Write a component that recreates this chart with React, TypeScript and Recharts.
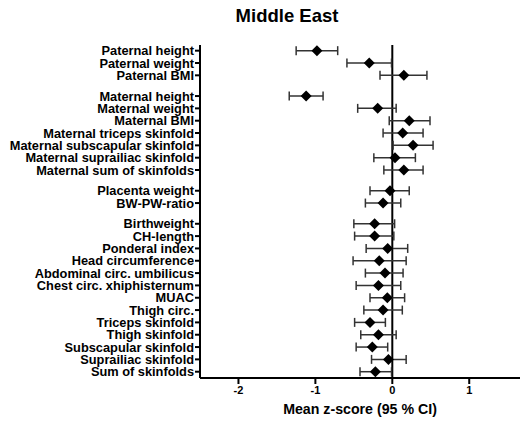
import { ScatterChart, Scatter, XAxis, YAxis, ErrorBar, ReferenceLine } from 'recharts';

const FONT = '"Liberation Sans", Arial, sans-serif';

// groups of outcomes, top to bottom
const PATERNAL = ['Paternal height', 'Paternal weight', 'Paternal BMI'];
const MATERNAL = [
  'Maternal height',
  'Maternal weight',
  'Maternal BMI',
  'Maternal triceps skinfold',
  'Maternal subscapular skinfold',
  'Maternal suprailiac skinfold',
  'Maternal sum of skinfolds',
];
const PLACENTA = ['Placenta weight', 'BW-PW-ratio'];
const NEWBORN = [
  'Birthweight',
  'CH-length',
  'Ponderal index',
  'Head circumference',
  'Abdominal circ. umbilicus',
  'Chest circ. xhiphisternum',
  'MUAC',
  'Thigh circ.',
  'Triceps skinfold',
  'Thigh skinfold',
  'Subscapular skinfold',
  'Suprailiac skinfold',
  'Sum of skinfolds',
];

// mean z-score and 95 % CI, same order as the labels above
const MEANS = [
  -0.98, -0.3, 0.15,
  -1.12, -0.19, 0.22, 0.135, 0.27, 0.035, 0.15,
  -0.03, -0.12,
  -0.23, -0.23, -0.06, -0.17, -0.095, -0.18, -0.065, -0.12, -0.29, -0.18, -0.26, -0.05, -0.22,
];
const CI_LOW = [
  -1.25, -0.59, -0.16,
  -1.34, -0.45, -0.04, -0.12, 0.01, -0.24, -0.11,
  -0.29, -0.35,
  -0.5, -0.49, -0.34, -0.51, -0.35, -0.47, -0.29, -0.37, -0.49, -0.41, -0.47, -0.27, -0.42,
];
const CI_HIGH = [
  -0.71, -0.01, 0.45,
  -0.9, 0.05, 0.49, 0.4, 0.53, 0.3, 0.4,
  0.22, 0.11,
  0.03, 0.02, 0.2, 0.18, 0.14, 0.11, 0.16, 0.13, -0.09, 0.05, -0.06, 0.18, -0.01,
];

const X_TICKS = [-2, -1, 0, 1];

const GROUP_GAP = 0.68; // extra space between groups, in rows

const labels: string[] = [];
const positions: number[] = [];
[PATERNAL, MATERNAL, PLACENTA, NEWBORN].forEach((group, g) => {
  group.forEach((name) => {
    positions.push(labels.length + g * GROUP_GAP);
    labels.push(name);
  });
});

const data = labels.map((name, i) => ({
  name,
  pos: positions[i],
  mean: MEANS[i],
  err: [MEANS[i] - CI_LOW[i], CI_HIGH[i] - MEANS[i]],
}));

const labelAt = (v: number) => {
  const i = positions.findIndex((p) => Math.abs(p - v) < 1e-6);
  return i >= 0 ? labels[i] : '';
};

const Diamond = (props: any) => {
  const { cx, cy } = props;
  return <path d={`M${cx},${cy - 5.5}L${cx + 5.5},${cy}L${cx},${cy + 5.5}L${cx - 5.5},${cy}Z`} fill="#000" />;
};

export default function App() {
  const last = positions[positions.length - 1];
  return (
    <div style={{ position: 'absolute', left: 0, top: 0, width: 522, height: 421, background: '#fff', fontFamily: FONT }}>
      <div
        style={{
          position: 'absolute',
          left: 0,
          top: 5,
          width: 574,
          textAlign: 'center',
          fontSize: 18.5,
          lineHeight: '21px',
          fontWeight: 'bold',
          color: '#000',
        }}
      >
        Middle East
      </div>
      <ScatterChart width={522} height={421} margin={{ top: 45, right: 2, bottom: 0, left: 0 }}>
        <XAxis
          type="number"
          dataKey="mean"
          domain={[-2.5, 1.66]}
          allowDataOverflow
          ticks={X_TICKS}
          height={43}
          tickSize={6}
          stroke="#000"
          strokeWidth={2}
          tick={{ fontSize: 11, fontWeight: 'bold', fill: '#000', fontFamily: FONT }}
          label={{
            value: 'Mean z-score (95 % CI)',
            position: 'insideBottom',
            offset: 7,
            style: { fontSize: 14.2, fontWeight: 'bold', fill: '#000', fontFamily: FONT },
          }}
        />
        <YAxis
          type="number"
          dataKey="pos"
          reversed
          domain={[-0.46, last + 0.51]}
          allowDataOverflow
          ticks={positions}
          interval={0}
          tickFormatter={labelAt}
          width={200}
          tickSize={5}
          tickMargin={1}
          stroke="#000"
          strokeWidth={2}
          tick={{ fontSize: 12.8, fontWeight: 'bold', fill: '#000', fontFamily: FONT }}
        />
        <ReferenceLine x={0} stroke="#000" strokeWidth={2} />
        <Scatter data={data} shape={Diamond} isAnimationActive={false}>
          <ErrorBar dataKey="err" direction="x" width={4.5} stroke="#333" strokeWidth={1.5} />
        </Scatter>
      </ScatterChart>
    </div>
  );
}
